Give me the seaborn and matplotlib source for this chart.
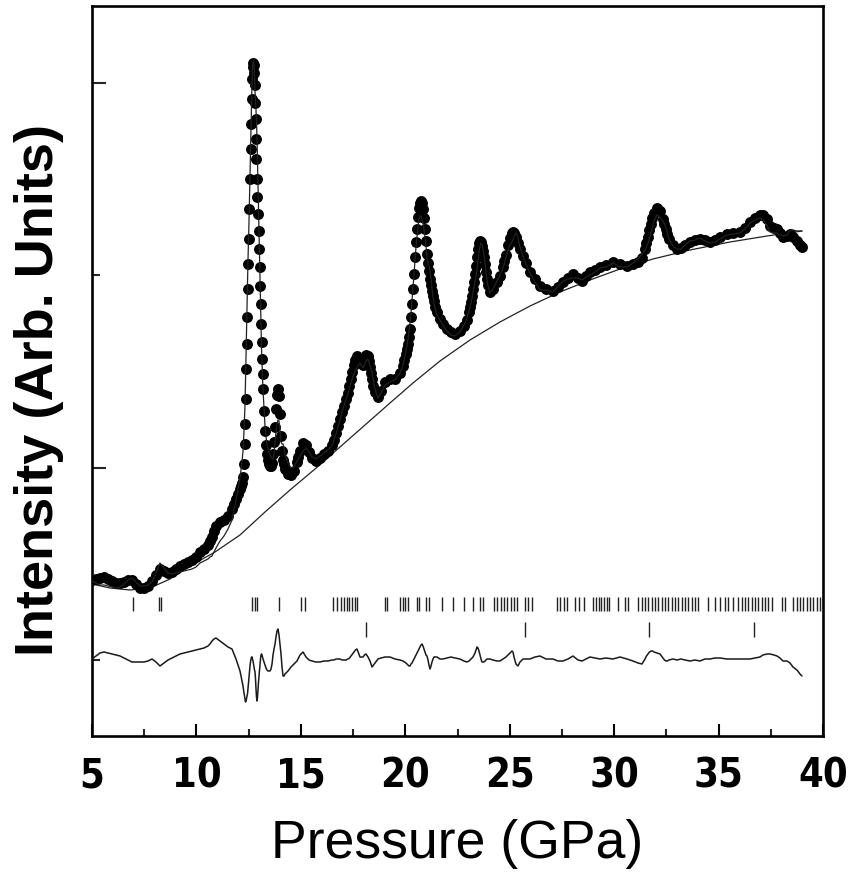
import numpy as np
import pandas as pd
import matplotlib
matplotlib.use("Agg")
import matplotlib.pyplot as plt
import seaborn as sns
from matplotlib import font_manager
from matplotlib.ticker import FixedLocator, NullFormatter

# ---------------- data ----------------
pressure = [5.000, 5.192, 5.383, 5.575, 5.766, 5.958, 6.149, 6.341, 6.532, 6.724,
            6.915, 7.107, 7.298, 7.490, 7.681, 7.873, 8.064, 8.256, 8.447, 8.639,
            8.830, 9.022, 9.213, 9.405, 9.596, 9.788, 9.979, 10.171, 10.362, 10.554,
            10.649, 10.745, 10.841, 10.937, 11.128, 11.320, 11.512, 11.703, 11.799, 11.895,
            11.990, 12.086, 12.134, 12.182, 12.230, 12.278, 12.325, 12.349, 12.373, 12.397,
            12.421, 12.445, 12.469, 12.493, 12.517, 12.541, 12.565, 12.589, 12.613, 12.637,
            12.661, 12.685, 12.709, 12.733, 12.757, 12.781, 12.805, 12.829, 12.852, 12.876,
            12.900, 12.924, 12.948, 12.972, 12.996, 13.020, 13.044, 13.068, 13.092, 13.116,
            13.140, 13.164, 13.188, 13.236, 13.283, 13.331, 13.379, 13.427, 13.475, 13.523,
            13.571, 13.619, 13.667, 13.715, 13.763, 13.810, 13.858, 13.906, 13.954, 14.002,
            14.050, 14.098, 14.146, 14.194, 14.241, 14.385, 14.528, 14.672, 14.815, 14.887,
            14.959, 15.103, 15.246, 15.390, 15.533, 15.725, 15.916, 16.108, 16.299, 16.491,
            16.586, 16.682, 16.778, 16.874, 16.970, 17.065, 17.161, 17.257, 17.329, 17.401,
            17.472, 17.544, 17.616, 17.688, 17.832, 17.975, 18.047, 18.119, 18.215, 18.263,
            18.310, 18.358, 18.406, 18.478, 18.550, 18.694, 18.837, 19.029, 19.268, 19.507,
            19.747, 19.890, 19.962, 20.034, 20.082, 20.130, 20.178, 20.226, 20.273, 20.321,
            20.369, 20.417, 20.465, 20.513, 20.560, 20.608, 20.656, 20.704, 20.752, 20.800,
            20.848, 20.896, 20.943, 20.991, 21.039, 21.087, 21.135, 21.183, 21.231, 21.279,
            21.326, 21.374, 21.446, 21.518, 21.662, 21.805, 21.997, 22.188, 22.380, 22.619,
            22.811, 22.955, 23.050, 23.098, 23.146, 23.194, 23.242, 23.290, 23.338, 23.385,
            23.433, 23.481, 23.529, 23.577, 23.625, 23.673, 23.720, 23.768, 23.816, 23.864,
            23.912, 23.960, 24.056, 24.199, 24.391, 24.534, 24.678, 24.750, 24.822, 24.917,
            25.013, 25.109, 25.157, 25.205, 25.300, 25.396, 25.492, 25.636, 25.779, 25.971,
            26.210, 26.450, 26.737, 27.072, 27.311, 27.551, 27.790, 28.029, 28.269, 28.460,
            28.652, 28.843, 29.083, 29.322, 29.609, 29.944, 30.279, 30.614, 30.902, 31.141,
            31.333, 31.476, 31.548, 31.620, 31.692, 31.763, 31.835, 31.907, 32.051, 32.194,
            32.338, 32.409, 32.481, 32.553, 32.625, 32.816, 33.008, 33.199, 33.391, 33.631,
            33.870, 34.109, 34.349, 34.588, 34.827, 35.067, 35.402, 35.689, 36.024, 36.264,
            36.503, 36.743, 36.982, 37.126, 37.318, 37.461, 37.653, 37.797, 37.940, 38.084,
            38.275, 38.419, 38.563, 38.754, 38.898, 38.994]

intensity_obs = [80, 81, 82, 83, 81, 79, 77, 77, 78, 80,
                 80, 76, 72, 72, 74, 79, 85, 91, 89, 87,
                 88, 91, 94, 96, 98, 100, 103, 108, 111, 115,
                 119, 123, 129, 134, 138, 140, 144, 151, 156, 161,
                 166, 171, 174, 177, 183, 196, 216, 236, 261, 291,
                 316, 343, 371, 396, 421, 451, 481, 511, 536, 561,
                 581, 593, 597, 595, 587, 575, 557, 541, 521, 501,
                 481, 463, 446, 429, 411, 393, 374, 356, 336, 318,
                 301, 286, 271, 249, 229, 215, 206, 200, 196, 194,
                 194, 197, 206, 218, 233, 251, 265, 271, 264, 246,
                 224, 209, 200, 196, 191, 186, 185, 189, 198, 203,
                 209, 217, 215, 208, 202, 199, 202, 206, 209, 215,
                 220, 227, 234, 241, 248, 254, 261, 267, 274, 281,
                 288, 295, 300, 304, 300, 295, 300, 305, 304, 299,
                 293, 287, 281, 274, 268, 263, 269, 278, 281, 281,
                 287, 294, 300, 306, 311, 316, 323, 331, 343, 356,
                 371, 386, 403, 418, 431, 443, 452, 457, 459, 457,
                 451, 442, 431, 419, 406, 397, 389, 381, 375, 369,
                 364, 359, 353, 348, 341, 336, 331, 328, 326, 329,
                 334, 340, 348, 353, 358, 364, 371, 378, 386, 394,
                 403, 411, 417, 419, 418, 414, 409, 403, 396, 388,
                 381, 375, 368, 371, 378, 384, 393, 399, 405, 415,
                 422, 427, 428, 427, 423, 417, 411, 404, 397, 388,
                 381, 374, 371, 369, 373, 378, 382, 386, 382, 379,
                 384, 388, 390, 393, 395, 398, 396, 394, 396, 398,
                 402, 411, 417, 423, 430, 436, 442, 447, 452, 449,
                 441, 436, 431, 426, 421, 415, 411, 412, 415, 418,
                 420, 421, 420, 418, 420, 423, 426, 427, 428, 432,
                 438, 442, 445, 445, 441, 434, 432, 431, 427, 423,
                 424, 426, 423, 419, 415, 413]

intensity_diff = [1, 4, 7, 8, 7, 6, 5, 4, 2, 0,
                  -2, -2, -2, -2, -1, 1, -2, -6, -3, 0,
                  2, 4, 6, 7, 8, 9, 10, 11, 12, 14,
                  16, 19, 21, 22, 19, 16, 13, 11, 6, 1,
                  -5, -11, -16, -21, -26, -33, -39, -42, -41, -39,
                  -36, -34, -29, -23, -17, -11, -6, -2, 1, 3,
                  3, 1, -1, -4, -7, -10, -12, -19, -29, -37,
                  -41, -37, -29, -22, -16, -10, -4, 1, 5, 6,
                  5, 3, 1, -2, -5, -8, -10, -11, -11, -11,
                  -9, -4, 5, 11, 16, 23, 29, 31, 25, 16,
                  6, -7, -16, -16, -14, -11, -7, -4, -1, 2,
                  5, 8, 3, 0, -1, -2, -2, -1, -1, 0,
                  0, 1, 1, 1, 0, 0, 0, 1, 2, 4,
                  6, 8, 10, 11, 3, 3, 5, 6, 3, 1,
                  -1, -4, -7, -5, -3, 1, 2, 3, 3, 1,
                  0, -1, -2, -3, -4, -5, -6, -6, -4, -3,
                  -1, 1, 3, 5, 7, 9, 11, 13, 15, 16,
                  14, 11, 8, 5, 4, 0, -5, -9, -6, -2,
                  1, 3, 3, 3, 1, 1, 2, 3, 2, 1,
                  -1, -2, -1, 0, 1, 2, 3, 5, 7, 10,
                  13, 12, 9, 5, 1, -2, -2, -2, -1, 0,
                  1, 1, 1, 0, -1, -1, 1, 2, 3, 5,
                  7, 9, 8, 3, -4, -6, -2, 1, 1, 1,
                  3, 4, 1, 1, -1, -1, 1, 4, 0, -1,
                  1, 3, 2, 1, 2, 1, 3, 1, -1, -3,
                  -4, 1, 4, 6, 8, 9, 9, 8, 7, 6,
                  2, 0, -1, -1, 0, 1, 0, 1, 0, -1,
                  0, -1, 1, 1, 2, 2, 1, 1, 1, 1,
                  1, 2, 3, 5, 6, 6, 5, 4, 2, -1,
                  -1, -3, -7, -10, -14, -16]

bg_pressure = [5.000, 5.862, 6.819, 7.777, 8.735, 9.692, 10.889, 12.086, 13.283, 14.480,
               15.677, 16.874, 18.071, 19.268, 20.369, 21.662, 23.098, 24.534, 25.971, 27.407,
               28.843, 30.279, 31.859, 33.631, 35.546, 37.318, 38.994]
bg_intensity = [76, 72, 70, 72, 81, 94, 108, 125, 148, 170,
                191, 213, 235, 257, 277, 299, 320, 338, 354, 368,
                380, 391, 401, 410, 418, 424, 429]

# reflection positions (two phases)
reflections_1 = [6.95, 8.22, 8.30, 12.65, 12.80, 12.89, 13.97, 14.99, 15.20, 16.55,
                 16.74, 16.91, 17.07, 17.19, 17.32, 17.45, 17.59, 17.70, 19.05, 19.12,
                 19.75, 19.88, 19.99, 20.14, 20.55, 20.67, 20.99, 21.12, 21.74, 22.30,
                 22.81, 23.24, 23.58, 23.72, 24.25, 24.39, 24.58, 24.73, 24.87, 25.06,
                 25.21, 25.35, 25.73, 25.88, 26.07, 27.25, 27.41, 27.60, 27.76, 28.13,
                 28.33, 28.56, 29.00, 29.13, 29.26, 29.39, 29.51, 29.64, 29.77, 30.20,
                 30.52, 30.68, 31.16, 31.32, 31.48, 31.64, 31.80, 31.96, 32.11, 32.28,
                 32.43, 32.59, 32.76, 32.91, 33.07, 33.23, 33.39, 33.55, 33.71, 33.87,
                 34.03, 34.51, 34.83, 35.07, 35.31, 35.47, 35.71, 35.94, 36.11, 36.27,
                 36.42, 36.59, 36.75, 36.90, 37.07, 37.23, 37.38, 37.54, 38.02, 38.18,
                 38.58, 38.74, 38.90, 39.06, 39.22, 39.38, 39.54, 39.70, 39.86]
reflections_2 = [18.12, 25.73, 31.67, 36.70]

x_ticks = [5, 10, 15, 20, 25, 30, 35, 40]
x_minor = [7.5, 12.5, 17.5, 22.5, 27.5, 32.5, 37.5]
y_major = [192.5, 577.5]
y_minor = [0.0, 385.0]

# ---------------- style ----------------
sns.set_theme(style="white")
plt.rcParams['font.family'] = ['Liberation Sans', 'DejaVu Sans']


def _is_bold(f):
    w = f.weight
    if isinstance(w, str):
        return w.lower() in ('bold', 'heavy', 'black', 'extra bold', 'semibold', 'demibold')
    return w >= 600


narrow = [f for f in font_manager.fontManager.ttflist
          if _is_bold(f) and ('Narrow' in f.name or 'Condensed' in f.name
                              or 'narrow' in f.fname.lower() or 'condensed' in f.fname.lower())
          and f.style == 'normal']
pref = [f for f in narrow if 'Liberation' in f.name or 'iberation' in f.fname] + \
       [f for f in narrow if 'Liberation' not in f.name]
if pref:
    tick_fp = font_manager.FontProperties(fname=pref[0].fname, size=28.5)
else:
    tick_fp = font_manager.FontProperties(family=['Liberation Sans', 'DejaVu Sans'],
                                          weight='bold', size=27)

fig = plt.figure(figsize=(8.48, 8.78), dpi=100)
ax = fig.add_axes([92/848, 1 - 737/878, (823 - 92)/848, (737 - 7)/878])

df = pd.DataFrame({"Pressure": pressure, "Obs": intensity_obs, "Diff": intensity_diff})
df["Calc"] = df["Obs"] - df["Diff"]
bg_df = pd.DataFrame({"Pressure": bg_pressure, "Bg": bg_intensity})

sns.scatterplot(data=df, x="Pressure", y="Obs", ax=ax, color="black", s=62,
                linewidth=0, marker="o", zorder=2, legend=False)
sns.lineplot(data=df, x="Pressure", y="Calc", ax=ax, color="#222222", lw=0.9,
             sort=False, estimator=None, zorder=3)
sns.lineplot(data=bg_df, x="Pressure", y="Bg", ax=ax, color="#222222", lw=0.9,
             sort=False, estimator=None, zorder=1)
sns.lineplot(data=df, x="Pressure", y="Diff", ax=ax, color="#1a1a1a", lw=1.1,
             sort=False, estimator=None, zorder=3)

ax.vlines(reflections_1, 49, 63, color="#222222", lw=1.0)
ax.vlines(reflections_2, 23, 38, color="#222222", lw=1.0)

ax.set_xlim(5, 40)
ax.set_ylim(-76, 654)

ax.xaxis.set_major_locator(FixedLocator(x_ticks))
ax.xaxis.set_minor_locator(FixedLocator(x_minor))
ax.yaxis.set_major_locator(FixedLocator(y_major))
ax.yaxis.set_minor_locator(FixedLocator(y_minor))
ax.yaxis.set_major_formatter(NullFormatter())

ax.tick_params(axis='x', which='major', direction='in', length=9, width=1.5,
               pad=14, bottom=True, top=False, colors='black')
ax.tick_params(axis='x', which='minor', direction='in', length=5, width=1.5,
               bottom=True, top=False)
ax.tick_params(axis='y', which='major', direction='in', length=10, width=1.5,
               left=True, right=False)
ax.tick_params(axis='y', which='minor', direction='in', length=5.5, width=1.5,
               left=True, right=False)

for lab in ax.get_xticklabels():
    lab.set_fontproperties(tick_fp)
    lab.set_color('black')

for sp in ax.spines.values():
    sp.set_visible(True)
    sp.set_color('black')
    sp.set_linewidth(1.9)

ax.set_xlabel("Pressure (GPa)", fontsize=38.5, color='black')
ax.set_ylabel("Intensity (Arb. Units)", fontsize=39, fontweight='bold', color='black')
ax.xaxis.set_label_coords(0.5, -0.112)
ax.yaxis.set_label_coords(-0.072, 0.475)
ax.xaxis.label.set_va('top')
ax.yaxis.label.set_va('center')

fig.savefig("out.png", dpi=100, facecolor='white')
